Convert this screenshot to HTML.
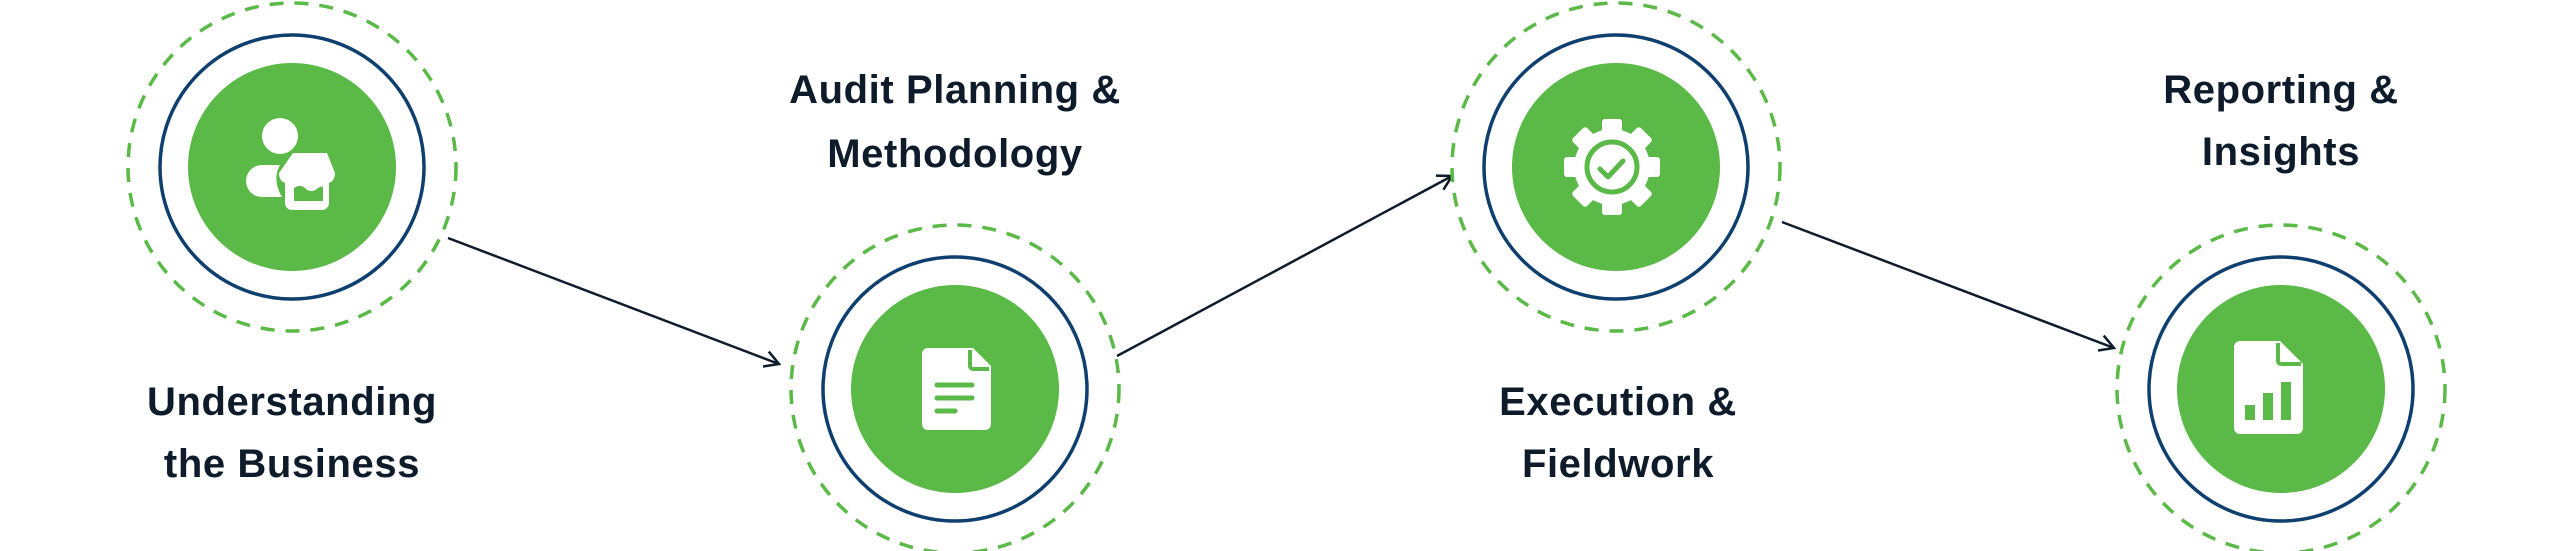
<!DOCTYPE html>
<html><head><meta charset="utf-8"><style>
html,body{margin:0;padding:0;background:#fff;width:2560px;height:551px;overflow:hidden}
svg{display:block}
text{font-family:"Liberation Sans",sans-serif;font-weight:bold;font-size:40px;fill:#0d1b2a;text-anchor:middle;letter-spacing:0.6px}
</style></head><body>
<svg width="2560" height="551" viewBox="0 0 2560 551">
<defs>
<marker id="ah" markerWidth="20" markerHeight="20" refX="16" refY="10" orient="auto" markerUnits="userSpaceOnUse">
<path d="M2,2 L16,10 L2,18" fill="none" stroke="#0d1b2a" stroke-width="2.5"/>
</marker>
<g id="ring">
<circle r="164" fill="none" stroke="#5ab947" stroke-width="3.5" stroke-dasharray="14 11"/>
<circle r="132" fill="none" stroke="#0f3f6e" stroke-width="3.5"/>
<circle r="104" fill="#5ab947"/>
</g>
</defs>
<line x1="448" y1="238" x2="779" y2="364" stroke="#0d1b2a" stroke-width="2.5" marker-end="url(#ah)"/>
<line x1="1117" y1="356" x2="1452" y2="176" stroke="#0d1b2a" stroke-width="2.5" marker-end="url(#ah)"/>
<line x1="1782" y1="222" x2="2114" y2="348" stroke="#0d1b2a" stroke-width="2.5" marker-end="url(#ah)"/>

<use href="#ring" x="292" y="167"/>
<use href="#ring" x="955" y="389"/>
<use href="#ring" x="1616" y="167"/>
<use href="#ring" x="2281" y="389"/>

<!-- icon 1 -->
<g fill="#fff">
<circle cx="280" cy="136" r="18"/>
<path d="M262,165 h18 c-6,10 -4,22 2,32 h-20 a16,16 0 0 1 0,-32z"/>
<path d="M293,153 h34 l8,20 c0,6 -3,9 -6,10 v20 a7,7 0 0 1 -7,7 h-30 a7,7 0 0 1 -7,-7 v-20 c-3,-1 -6,-4 -6,-10z"/>
</g>
<path d="M294,188 c5,-3 8,-3 12,1 c4,3 8,3 12,-1 c3,-2 5,-2 5,0 v13 h-29z" fill="#5ab947"/>

<!-- icon 2 doc -->
<path d="M928,348 h45 l18,18 v58 a6,6 0 0 1 -6,6 h-57 a6,6 0 0 1 -6,-6 v-70 a6,6 0 0 1 6,-6z" fill="#fff"/>
<path d="M970,350 v16 a3,3 0 0 0 3,3 h16" fill="none" stroke="#5ab947" stroke-width="4"/>
<g stroke="#5ab947" stroke-width="5" stroke-linecap="round"><line x1="937" y1="385" x2="972" y2="385"/><line x1="937" y1="398" x2="972" y2="398"/><line x1="937" y1="411" x2="955" y2="411"/></g>

<!-- icon 3 gear -->
<g transform="translate(1612,167)">
<circle r="38" fill="#fff"/>
<g fill="#fff">
<rect x="-10" y="-48" width="20" height="20" rx="3"/>
<rect x="-10" y="-48" width="20" height="20" rx="3" transform="rotate(45)"/>
<rect x="-10" y="-48" width="20" height="20" rx="3" transform="rotate(90)"/>
<rect x="-10" y="-48" width="20" height="20" rx="3" transform="rotate(135)"/>
<rect x="-10" y="-48" width="20" height="20" rx="3" transform="rotate(180)"/>
<rect x="-10" y="-48" width="20" height="20" rx="3" transform="rotate(225)"/>
<rect x="-10" y="-48" width="20" height="20" rx="3" transform="rotate(270)"/>
<rect x="-10" y="-48" width="20" height="20" rx="3" transform="rotate(315)"/>
</g>
<circle r="25" fill="none" stroke="#5ab947" stroke-width="5"/>
<path d="M-12,2 l8,8 l15,-16" fill="none" stroke="#5ab947" stroke-width="5" stroke-linecap="round" stroke-linejoin="round"/>
</g>

<!-- icon 4 -->
<path d="M2240,341 h40 l23,23 v64 a6,6 0 0 1 -6,6 h-57 a6,6 0 0 1 -6,-6 v-81 a6,6 0 0 1 6,-6z" fill="#fff"/>
<path d="M2278,343 v18 a3,3 0 0 0 3,3 h20" fill="none" stroke="#5ab947" stroke-width="4"/>
<g fill="#5ab947"><rect x="2245" y="405" width="10" height="15"/><rect x="2263" y="393" width="10" height="27"/><rect x="2281" y="382" width="10" height="38"/></g>

<text x="292" y="415">Understanding</text>
<text x="292" y="477">the Business</text>
<text x="955" y="103">Audit Planning &amp;</text>
<text x="955" y="167">Methodology</text>
<text x="1618" y="415">Execution &amp;</text>
<text x="1618" y="477">Fieldwork</text>
<text x="2281" y="103">Reporting &amp;</text>
<text x="2281" y="165">Insights</text>
</svg>
</body></html>
